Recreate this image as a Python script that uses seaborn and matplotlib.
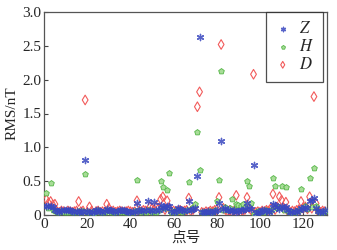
import numpy as np
import pandas as pd
import matplotlib
matplotlib.use('Agg')
import matplotlib.pyplot as plt
import seaborn as sns

# point numbers and RMS values (nT) per component
points = list(range(1, 131))

z_rms = [0.14, 0.13, 0.13, 0.12, 0.08, 0.06, 0.05, 0.07, 0.08, 0.07,
         0.08, 0.07, 0.06, 0.05, 0.06, 0.05, 0.06, 0.05, 0.82, 0.06,
         0.05, 0.04, 0.05, 0.07, 0.08, 0.06, 0.05, 0.06, 0.09, 0.08,
         0.07, 0.06, 0.05, 0.06, 0.07, 0.08, 0.07, 0.06, 0.05, 0.05,
         0.06, 0.05, 0.17, 0.08, 0.07, 0.06, 0.07, 0.20, 0.08, 0.06,
         0.19, 0.08, 0.07, 0.15, 0.12, 0.10, 0.14, 0.13, 0.06, 0.05,
         0.06, 0.10, 0.09, 0.07, 0.06, 0.07, 0.21, 0.08, 0.09, 0.10,
         0.58, 2.63, 0.05, 0.04, 0.05, 0.06, 0.05, 0.05, 0.06, 0.08,
         0.17, 1.10, 0.09, 0.10, 0.08, 0.07, 0.06, 0.07, 0.05, 0.06,
         0.07, 0.08, 0.09, 0.18, 0.10, 0.09, 0.74, 0.03, 0.04, 0.05,
         0.07, 0.08, 0.06, 0.05, 0.07, 0.16, 0.15, 0.12, 0.09, 0.13,
         0.10, 0.12, 0.08, 0.04, 0.05, 0.06, 0.05, 0.07, 0.10, 0.09,
         0.12, 0.11, 0.20, 0.22, 0.25, 0.10, 0.06, 0.04, 0.05, 0.07]

h_rms = [0.32, 0.10, 0.47, 0.08, 0.06, 0.05, 0.04, 0.06, 0.05, 0.04,
         0.05, 0.06, 0.05, 0.04, 0.05, 0.06, 0.05, 0.06, 0.61, 0.05,
         0.04, 0.05, 0.03, 0.06, 0.07, 0.05, 0.04, 0.05, 0.07, 0.06,
         0.05, 0.04, 0.05, 0.06, 0.05, 0.06, 0.05, 0.04, 0.05, 0.04,
         0.05, 0.06, 0.51, 0.07, 0.05, 0.06, 0.05, 0.07, 0.06, 0.05,
         0.06, 0.05, 0.08, 0.50, 0.41, 0.10, 0.37, 0.62, 0.05, 0.06,
         0.05, 0.07, 0.06, 0.05, 0.06, 0.08, 0.49, 0.09, 0.12, 0.16,
         1.22, 0.66, 0.04, 0.05, 0.04, 0.05, 0.06, 0.05, 0.07, 0.20,
         0.51, 2.13, 0.08, 0.12, 0.07, 0.10, 0.23, 0.08, 0.16, 0.15,
         0.14, 0.16, 0.12, 0.50, 0.43, 0.17, 0.02, 0.05, 0.06, 0.05,
         0.06, 0.05, 0.07, 0.06, 0.08, 0.54, 0.43, 0.10, 0.12, 0.43,
         0.08, 0.42, 0.06, 0.05, 0.04, 0.05, 0.06, 0.08, 0.39, 0.10,
         0.13, 0.09, 0.55, 0.12, 0.70, 0.14, 0.06, 0.05, 0.04, 0.06]

d_rms = [0.23, 0.18, 0.20, 0.15, 0.16, 0.05, 0.04, 0.06, 0.05, 0.04,
         0.06, 0.05, 0.04, 0.05, 0.06, 0.20, 0.05, 0.06, 1.70, 0.04,
         0.12, 0.06, 0.02, 0.05, 0.06, 0.04, 0.05, 0.04, 0.16, 0.10,
         0.05, 0.06, 0.04, 0.05, 0.06, 0.05, 0.04, 0.05, 0.06, 0.05,
         0.04, 0.05, 0.21, 0.06, 0.05, 0.07, 0.06, 0.05, 0.12, 0.10,
         0.08, 0.12, 0.10, 0.23, 0.27, 0.08, 0.21, 0.10, 0.05, 0.06,
         0.04, 0.06, 0.07, 0.05, 0.06, 0.07, 0.25, 0.06, 0.08, 0.12,
         1.60, 1.82, 0.04, 0.03, 0.05, 0.04, 0.06, 0.05, 0.07, 0.08,
         0.26, 2.52, 0.10, 0.08, 0.06, 0.07, 0.05, 0.06, 0.29, 0.06,
         0.05, 0.07, 0.08, 0.26, 0.10, 0.07, 2.08, 0.04, 0.05, 0.04,
         0.06, 0.05, 0.07, 0.06, 0.10, 0.31, 0.08, 0.12, 0.27, 0.22,
         0.10, 0.19, 0.05, 0.04, 0.06, 0.05, 0.07, 0.08, 0.20, 0.10,
         0.12, 0.09, 0.27, 0.10, 1.75, 0.17, 0.05, 0.04, 0.06, 0.05]

x_ticks = [0, 20, 40, 60, 80, 100, 120]
y_ticks = [0, 0.5, 1.0, 1.5, 2.0, 2.5, 3.0]
y_tick_labels = ['0', '0.5', '1.0', '1.5', '2.0', '2.5', '3.0']

sns.set_style('ticks')
plt.rcParams['font.family'] = ['serif']
plt.rcParams['font.serif'] = ['Liberation Serif', 'DejaVu Serif']
plt.rcParams['mathtext.fontset'] = 'stix'
plt.rcParams['xtick.direction'] = 'in'
plt.rcParams['ytick.direction'] = 'in'

fig = plt.figure(figsize=(3.37, 2.5), dpi=100)
ax = fig.add_axes([0.131, 0.14, 0.839, 0.812])

# draw D first, then H, then Z on top
sns.scatterplot(x=points, y=d_rms, ax=ax, marker='d', s=24,
                facecolor='none', edgecolor='#f25a5a', linewidth=0.8,
                label='$D$', zorder=3)
sns.scatterplot(x=points, y=h_rms, ax=ax, marker='p', s=18,
                facecolor='#a8dc98', edgecolor='#52b544', linewidth=0.6,
                label='$H$', zorder=3)
sns.scatterplot(x=points, y=z_rms, ax=ax, marker=(6, 2, 0), s=20,
                color='#3a48c0', linewidth=1.0, alpha=0.85,
                label='$Z$', zorder=4)

ax.set_xlim(0, 131)
ax.set_ylim(0, 3.0)
ax.set_xticks(x_ticks)
ax.set_yticks(y_ticks)
ax.set_yticklabels(y_tick_labels)
ax.tick_params(labelsize=11, length=3, width=0.8, color='#444444')
ax.tick_params(axis='x', pad=2)
ax.tick_params(axis='y', pad=2)
for sp in ax.spines.values():
    sp.set_visible(True)
    sp.set_color('#555555')
    sp.set_linewidth(0.9)

ax.set_xlabel('点号', fontsize=10.5, family=['Noto Sans CJK SC'], labelpad=0)
ax.set_ylabel('RMS/nT', fontsize=11, labelpad=3)

handles, labels = ax.get_legend_handles_labels()
order = [2, 1, 0]
leg = ax.legend([handles[i] for i in order], [labels[i] for i in order],
                loc='upper right', bbox_to_anchor=(0.985, 1.0),
                borderaxespad=0, frameon=True,
                fancybox=False, edgecolor='#222222', fontsize=12,
                handletextpad=0.5, borderpad=0.55, labelspacing=0.12,
                handlelength=0.9, markerscale=0.7)
leg.get_frame().set_linewidth(0.9)

fig.savefig('out.png', dpi=100)
